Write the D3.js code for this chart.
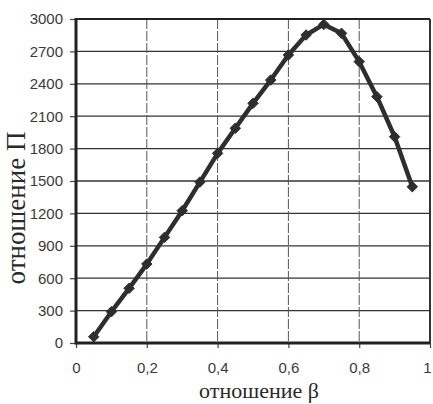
<!DOCTYPE html>
<html><head><meta charset="utf-8">
<script src="https://cdn.jsdelivr.net/npm/d3@7"></script>
<style>body{margin:0;background:#fff}svg{display:block}</style>
</head><body>
<svg id="c" width="433" height="404"></svg>
<script>
const betaValues = [0.05,0.1,0.15,0.2,0.25,0.3,0.35,0.4,0.45,0.5,0.55,0.6,0.65,0.7,0.75,0.8,0.85,0.9,0.95];
const piValues = [58,290,506,731,978,1225,1490,1756,1988,2219,2435,2667,2852,2950,2867,2605,2281,1910,1447];
const xTicks = [0,0.2,0.4,0.6,0.8,1];
const yTicks = [0,300,600,900,1200,1500,1800,2100,2400,2700,3000];
const xTitle = "отношение β";
const yTitle = "отношение Π";

const svg = d3.select("#c");
const m = {l:76, t:19, r:3, b:61};
const W = 433, H = 404;
const x = d3.scaleLinear().domain([0,1]).range([m.l, W-m.r]);
const y = d3.scaleLinear().domain([0,3000]).range([H-m.b, m.t]);
const ink = "#2e2e2e";

// horizontal grid
svg.append("g").selectAll("line").data(yTicks.slice(1)).join("line")
  .attr("x1", m.l).attr("x2", W-m.r).attr("y1", d=>y(d)).attr("y2", d=>y(d))
  .attr("stroke", "#333").attr("stroke-width", 1.3);
// vertical grid
svg.append("g").selectAll("line").data(xTicks.slice(1,-1)).join("line")
  .attr("x1", d=>x(d)).attr("x2", d=>x(d)).attr("y1", m.t).attr("y2", H-m.b)
  .attr("stroke", "#555").attr("stroke-width", 1).attr("stroke-dasharray","10,2");

// axes
const yAxis = d3.axisLeft(y).tickValues(yTicks).tickSize(6).tickPadding(7).tickFormat(d3.format("d"));
const gy = svg.append("g").attr("transform", `translate(${m.l},0)`).call(yAxis);
const xAxis = d3.axisBottom(x).tickValues(xTicks).tickSize(5).tickPadding(14)
  .tickFormat(d => d===0||d===1 ? String(d) : String(d).replace(".", ","));
const gx = svg.append("g").attr("transform", `translate(0,${H-m.b})`).call(xAxis);
[gx, gy].forEach(g => {
  g.select(".domain").remove();
  g.selectAll(".tick line").attr("stroke", "#444").attr("stroke-width", 1.2);
  g.selectAll(".tick text").attr("fill", "#3a3a3a")
    .style("font-family", "'Liberation Sans', Arial, sans-serif").style("font-size", "15px");
});
gx.selectAll(".tick text").filter(d => d === 1).attr("dx", "-3");

// frame
svg.append("line").attr("x1", m.l).attr("x2", W-m.r).attr("y1", m.t).attr("y2", m.t).attr("stroke", "#222").attr("stroke-width", 2.2);
svg.append("line").attr("x1", W-m.r).attr("x2", W-m.r).attr("y1", m.t).attr("y2", H-m.b).attr("stroke", "#333").attr("stroke-width", 2);
svg.append("line").attr("x1", m.l).attr("x2", W-m.r).attr("y1", H-m.b).attr("y2", H-m.b).attr("stroke", "#222").attr("stroke-width", 3);
svg.append("line").attr("x1", m.l).attr("x2", m.l).attr("y1", m.t-1).attr("y2", H-m.b+1.5).attr("stroke", "#222").attr("stroke-width", 3);

// line
const pts = betaValues.map((b,i)=>[b, piValues[i]]);
svg.append("path").datum(pts)
  .attr("d", d3.line().x(d=>x(d[0])).y(d=>y(d[1])))
  .attr("fill","none").attr("stroke", ink).attr("stroke-width", 4.5).attr("stroke-linejoin","round");
// diamond markers
svg.append("g").selectAll("path").data(pts).join("path")
  .attr("d", d3.symbol(d3.symbolDiamond2, 70))
  .attr("transform", d=>`translate(${x(d[0])},${y(d[1])})`)
  .attr("fill", ink).attr("stroke", ink).attr("stroke-width", 1);

// titles
svg.append("text").attr("x", 259).attr("y", 398).attr("text-anchor","middle")
  .attr("fill", "#2a2a2a").style("font-family","'Liberation Serif','Times New Roman',serif").style("font-size","22px")
  .text(xTitle);
svg.append("text").attr("transform", "translate(25,208) rotate(-90)").attr("text-anchor","middle")
  .attr("fill", "#2a2a2a").style("font-family","'Liberation Serif','Times New Roman',serif").style("font-size","27px")
  .text(yTitle);
</script>
</body></html>
